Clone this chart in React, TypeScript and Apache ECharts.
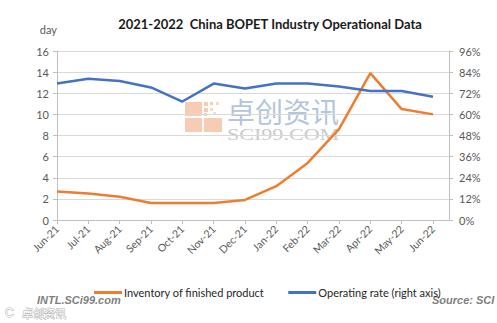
import React, { useEffect, useRef } from "react";
import * as echarts from "echarts";

const categories = ["Jun-21", "Jul-21", "Aug-21", "Sep-21", "Oct-21", "Nov-21", "Dec-21", "Jan-22", "Feb-22", "Mar-22", "Apr-22", "May-22", "Jun-22"];
const inventory = [2.7, 2.5, 2.2, 1.6, 1.6, 1.6, 1.9, 3.2, 5.4, 8.6, 13.9, 10.5, 10.0];
const operatingRate = [77.5, 80.2, 79.0, 75.3, 67.3, 77.5, 74.7, 77.5, 77.5, 75.8, 73.3, 73.3, 70.0];
const seriesNames = ["Inventory of finished product", "Operating rate (right axis)"];
const titleText = "2021-2022  China BOPET Industry Operational Data";

const FONT = "Lato, 'Noto Sans', sans-serif";
const AXIS_COLOR = "#bfbfbf";
const LABEL_COLOR = "#595959";

export default function App() {
  const ref = useRef<HTMLDivElement>(null);
  useEffect(() => {
    if (!ref.current) return;
    const chart = echarts.init(ref.current, undefined, { renderer: "svg" });
    const top = 51;
    const bottom = 323 - 220;
    const option: any = {
      animation: false,
      backgroundColor: "#ffffff",
      textStyle: { fontFamily: FONT },
      title: {
        text: titleText,
        left: 265,
        textAlign: "center",
        top: 12,
        textStyle: { fontSize: 13, fontWeight: "bold", color: "#1a1a1a", fontFamily: FONT },
      },
      legend: {
        left: 89,
        top: 282,
        itemWidth: 28,
        itemHeight: 3,
        itemGap: 24,
        icon: "rect",
        textStyle: { fontSize: 11, color: "#262626", fontFamily: FONT, padding: [0, 0, 0, -3] },
        data: seriesNames,
      },
      grid: [
        { left: 57, right: 497 - 433, top, bottom },
        { left: 57, right: 497 - 449, top, bottom },
      ],
      xAxis: [
        {
          type: "category",
          gridIndex: 0,
          data: categories,
          boundaryGap: false,
          axisLine: { show: false },
          axisTick: { show: true, length: 4, interval: 0, lineStyle: { color: AXIS_COLOR } },
          axisLabel: { interval: 0, rotate: 45, margin: 7, fontSize: 10.5, color: LABEL_COLOR, fontFamily: FONT },
          splitLine: { show: false },
        },
        {
          type: "value",
          gridIndex: 1,
          min: 0,
          max: 1,
          axisLine: { show: true, lineStyle: { color: AXIS_COLOR } },
          axisTick: { show: false },
          axisLabel: { show: false },
          splitLine: { show: false },
        },
      ],
      yAxis: [
        { type: "value", gridIndex: 0, min: 0, max: 16, interval: 2, show: false },
        { type: "value", gridIndex: 0, min: 0, max: 96, interval: 12, show: false },
        {
          type: "value",
          gridIndex: 1,
          position: "left",
          name: "day",
          nameLocation: "end",
          nameGap: 16,
          nameTextStyle: { fontSize: 11, color: LABEL_COLOR, fontFamily: FONT, align: "right" },
          min: 0,
          max: 16,
          interval: 2,
          axisLine: { show: true, lineStyle: { color: AXIS_COLOR } },
          axisTick: { show: true, length: 4, lineStyle: { color: AXIS_COLOR } },
          axisLabel: { margin: 8, fontSize: 11, color: LABEL_COLOR, fontFamily: FONT },
          splitLine: { show: true, lineStyle: { color: "#d9d9d9", width: 1 } },
        },
        {
          type: "value",
          gridIndex: 1,
          position: "right",
          min: 0,
          max: 96,
          interval: 12,
          axisLine: { show: true, lineStyle: { color: AXIS_COLOR } },
          axisTick: { show: true, length: 4, lineStyle: { color: AXIS_COLOR } },
          axisLabel: { margin: 10, fontSize: 11, color: LABEL_COLOR, fontFamily: FONT, formatter: "{value}%" },
          splitLine: { show: false },
        },
      ],
      series: [
        {
          name: seriesNames[0],
          type: "line",
          xAxisIndex: 0,
          yAxisIndex: 0,
          data: inventory,
          showSymbol: false,
          symbol: "none",
          lineStyle: { color: "#ed7d31", width: 2.5 },
          itemStyle: { color: "#ed7d31" },
          z: 3,
        },
        {
          name: seriesNames[1],
          type: "line",
          xAxisIndex: 0,
          yAxisIndex: 1,
          data: operatingRate,
          showSymbol: false,
          symbol: "none",
          lineStyle: { color: "#4472c4", width: 2.5 },
          itemStyle: { color: "#4472c4" },
          z: 3,
        },
      ],
      graphic: [
        {
          type: "group",
          z: 1,
          children: [
            { type: "rect", shape: { x: 185, y: 102, width: 17, height: 14 }, style: { fill: "#f7c7ab", opacity: 0.9 } },
            { type: "rect", shape: { x: 185, y: 118, width: 17, height: 14 }, style: { fill: "#f7c7ab", opacity: 0.9 } },
            { type: "rect", shape: { x: 204, y: 118, width: 18, height: 14 }, style: { fill: "#f7c7ab", opacity: 0.9 } },
            { type: "rect", shape: { x: 204, y: 102, width: 4, height: 4 }, style: { fill: "#f7c7ab", opacity: 0.9 } },
            { type: "rect", shape: { x: 210, y: 102, width: 3, height: 3 }, style: { fill: "#f7c7ab", opacity: 0.9 } },
            { type: "rect", shape: { x: 216, y: 102, width: 3, height: 3 }, style: { fill: "#f7c7ab", opacity: 0.7 } },
            { type: "rect", shape: { x: 204, y: 108, width: 4, height: 4 }, style: { fill: "#f7c7ab", opacity: 0.9 } },
            { type: "rect", shape: { x: 210, y: 108, width: 3, height: 3 }, style: { fill: "#f7c7ab", opacity: 0.7 } },
            { type: "rect", shape: { x: 204, y: 113, width: 3, height: 3 }, style: { fill: "#f7c7ab", opacity: 0.8 } },
            { type: "rect", shape: { x: 213, y: 112, width: 3, height: 3 }, style: { fill: "#f7c7ab", opacity: 0.6 } },
            {
              type: "text",
              x: 227,
              y: 97,
              style: { text: "卓创资讯", fontSize: 28, fontFamily: "'Noto Sans CJK SC'", fill: "#aabdda", opacity: 0.9 },
            },
            {
              type: "text",
              x: 227,
              y: 127,
              scaleX: 1.38,
              style: { text: "SCI99.COM", fontSize: 16, fontFamily: "'Liberation Serif', serif", fill: "#c4c4c4", opacity: 0.9 },
            },
          ],
        },
        {
          type: "text",
          x: 37,
          y: 294,
          style: { text: "INTL.SCi99.com", fontSize: 11, fontWeight: "bold", fontStyle: "italic", fontFamily: "'Liberation Sans', Arial, sans-serif", fill: "#7f7f7f" },
        },
        {
          type: "text",
          x: 432,
          y: 294,
          style: { text: "Source: SCI", fontSize: 11, fontWeight: "bold", fontStyle: "italic", fontFamily: "'Liberation Sans', Arial, sans-serif", fill: "#7f7f7f" },
        },
        {
          type: "text",
          x: 5,
          y: 307,
          style: { text: "C", fontSize: 12, fontFamily: "'Liberation Sans', sans-serif", fill: "#ffffff", stroke: "#b0b0b0", lineWidth: 1 },
        },
        {
          type: "text",
          x: 22,
          y: 307,
          style: { text: "卓创资讯", fontSize: 11, fontFamily: "'Noto Sans CJK SC'", fill: "#ffffff", stroke: "#b0b0b0", lineWidth: 1 },
        },
      ],
    };
    chart.setOption(option);
    return () => chart.dispose();
  }, []);
  return <div ref={ref} style={{ position: "absolute", left: 0, top: 0, width: 497, height: 323 }} />;
}
